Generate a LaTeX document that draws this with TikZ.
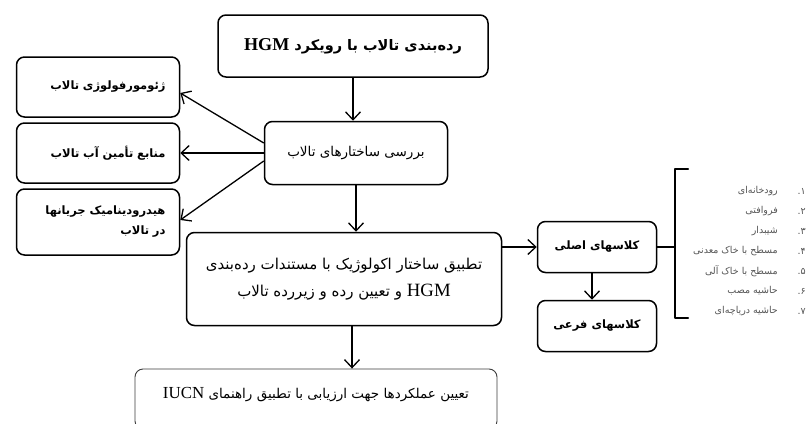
\documentclass[tikz,border=0pt]{standalone}
\usepackage{fontspec}
\usepackage{xcolor}
\usepackage{tikz}
\usetikzlibrary{calc,arrows.meta,positioning}
\setmainfont{Liberation Serif}
\newfontfamily\fa[Script=Arabic]{DejaVu Sans}
\newfontfamily\lat[Scale=1.25]{Liberation Serif}
\TeXXeTstate=1
\definecolor{bg}{HTML}{FFFFFF}
\definecolor{ink}{HTML}{000000}
\definecolor{soft}{HTML}{3C3C3C}
\definecolor{muted}{HTML}{555555}
\newcommand{\rl}[1]{\beginR#1\endR}
\newcommand{\lr}[1]{\beginL{\lat#1}\endL{}}
\newcommand{\zw}{^^^^200c}
\tikzset{
  box/.style={draw=ink, fill=bg, line width=1.5pt, rounded corners=8pt, align=center, inner sep=3pt},
  titlef/.style={font=\fa\bfseries\fontsize{14.5}{18}\selectfont},
  structf/.style={font=\fa\fontsize{13.5}{16}\selectfont},
  mainf/.style={font=\fa\fontsize{15}{27}\selectfont},
  sidebox/.style={box, minimum width=163pt, text width=135pt, inner xsep=14pt, align=right,
    font=\fa\bfseries\fontsize{11.5}{20}\selectfont},
  classbox/.style={box, minimum width=119pt, minimum height=51pt, font=\fa\bfseries\fontsize{11.5}{13}\selectfont},
  evalbox/.style={draw=soft, fill=bg, line width=0.9pt, rounded corners=8pt, text depth=12pt,
    font=\fa\fontsize{13.5}{16}\selectfont},
  arr/.style={draw=ink, line width=1.3pt, -{Straight Barb[length=8pt,width=15pt]}},
  brk/.style={draw=ink, line width=2pt, line cap=round, line join=round},
  lst/.style={text=muted, anchor=east, inner sep=0pt, font=\fa\fontsize{9.5}{11}\selectfont},
}

\begin{document}
\begin{tikzpicture}[x=1pt,y=-1pt]
\useasboundingbox (0,0) rectangle (810,423);
\clip (0,0) rectangle (810,423);
\fill[bg] (0,0) rectangle (810,423);

% main chain
\node[box, titlef, minimum width=270pt, minimum height=62pt] (title) at (353,46)
  {\rl{رده\zw بندی تالاب با رویکرد \lr{HGM}}};
\node[box, structf, minimum width=183pt, minimum height=63pt] (struct) at (356,153)
  {\rl{بررسی ساختارهای تالاب}};
\node[box, mainf, minimum width=315pt, minimum height=93pt] (main) at (344,279)
  {\rl{تطبیق ساختار اکولوژیک با مستندات رده\zw بندی}\\\rl{\lr{HGM} و تعیین رده و زیررده تالاب}};
\node[evalbox, minimum width=362pt, minimum height=60pt] (eval) at (316,399)
  {\rl{تعیین عملکردها جهت ارزیابی با تطبیق راهنمای \lr{IUCN}}};

% left column
\node[sidebox, minimum height=60pt] (geo) at (98,87) {\rl{ژئومورفولوژی تالاب}};
\node[sidebox, minimum height=60pt] (water) at (98,153) {\rl{منابع تأمین آب تالاب}};
\node[sidebox, minimum height=66pt] (hydro) at (98,222)
  {\rl{هیدرودینامیک جریانها}\\\rl{در تالاب}};

% classes
\node[classbox] (mainc) at (597,247) {\rl{کلاسهای اصلی}};
\node[classbox] (subc) at (597,326) {\rl{کلاسهای فرعی}};

\draw[arr] (title.south) -- (title.south |- struct.north);
\draw[arr] ([yshift=10pt]struct.west) -- ([yshift=-6pt]geo.east);
\draw[arr] (struct.west) -- (water.east);
\draw[arr] ([yshift=-8pt]struct.west) -- ([yshift=2pt]hydro.east);
\draw[arr] (struct.south) -- (struct.south |- main.north);
\draw[arr] ([xshift=8pt]main.south) -- ([xshift=8pt]main.south |- eval.north);
\draw[arr] (main.east |- mainc.west) -- (mainc.west);
\draw[arr] ([xshift=-5pt]mainc.south) -- ([xshift=-5pt]subc.north);

% bracket
\coordinate (brTop) at (675,169);
\coordinate (brBot) at (675,318);
\draw[brk] ($(brTop)+(13,0)$) -- (brTop) -- (brBot) -- ($(brBot)+(13,0)$);
\draw[brk] (mainc.east) -- (mainc.east -| brTop);

% wetland classes
\foreach \n/\t [count=\i] in {۱/رودخانه\zw ای, ۲/فروافتی, ۳/شیبدار, ۴/مسطح با خاک معدنی,
    ۵/مسطح با خاک آلی, ۶/حاشیه مصب, ۷/حاشیه دریاچه\zw ای} {
  \node[lst] (num\i) at (806,{171+20*\i}) {\rl{\n.}};
  \node[lst] (item\i) at (778,{171+20*\i}) {\rl{\t}};
}
\end{tikzpicture}
\end{document}
